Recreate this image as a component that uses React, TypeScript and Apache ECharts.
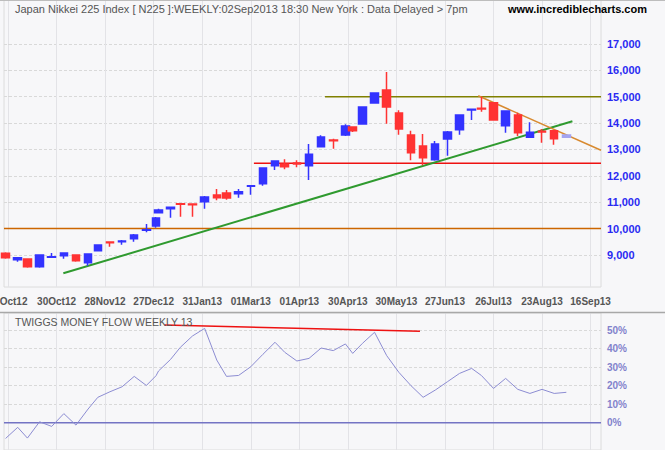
import React, { useEffect, useRef } from 'react';
import * as echarts from 'echarts';

// Weekly candles (Nikkei 225), positioned by trading-day index (0 = 01Oct12)
const weekEnding = ['28Sep12','05Oct12','12Oct12','19Oct12','26Oct12','02Nov12','09Nov12','16Nov12','22Nov12','30Nov12','07Dec12','14Dec12','21Dec12','28Dec12','04Jan13','11Jan13','18Jan13','25Jan13','01Feb13','08Feb13','15Feb13','22Feb13','01Mar13','08Mar13','15Mar13','22Mar13','29Mar13','05Apr13','12Apr13','19Apr13','26Apr13','02May13','10May13','17May13','24May13','31May13','07Jun13','14Jun13','21Jun13','28Jun13','05Jul13','12Jul13','19Jul13','26Jul13','02Aug13','09Aug13','16Aug13','23Aug13','30Aug13','06Sep13'];
const tradingDay = [-1,4,8,13,18,23,28,33,37,42,47,52,57,61,62,67,71,76,81,86,90,95,100,105,110,114,119,124,129,134,139,142,146,151,156,161,166,171,176,181,186,191,195,200,205,210,215,220,225,230];
const openP = [9063,8823,8848,8558,8912,8975,9000,8709,9164,9493,9505,9619,9935,10099,10605,10757,10946,10933,11022,11275,11350,11325,11603,11704,12387,12437,12488,12386,13106,13359,13549,13852,13966,14762,15255,14383,13549,13132,12613,13397,13751,14496,14560,14774,13902,14307,13460,13688,13713,13460];
const closeP = [8899,8899,8558,9000,8937,9076,8785,9038,9379,9468,9531,9758,9960,10403,10706,10807,10921,10908,11199,11174,11161,11401,11628,12298,12564,12349,12450,12816,13473,13334,13890,13713,14610,15141,14610,13776,12879,12689,13207,13662,14307,14522,14534,14117,14458,13637,13650,13662,13410,13549];
const lowP = [8861,8747,8520,8520,8905,8861,8747,8596,9160,9316,9392,9505,9859,10036,10600,10415,10453,10453,10757,11072,11098,11174,11287,11628,12222,12248,12324,11843,13100,13031,13511,13662,13940,14737,13978,13561,12588,12399,12576,12765,13561,14117,14433,14110,13637,13511,13448,13258,13182,13455];
const highP = [9101,8905,8855,9025,9076,9076,9025,9040,9380,9495,9569,9796,10175,10441,10757,10810,10971,10935,11237,11502,11464,11502,11630,12300,12566,12627,12589,13207,13536,13410,13953,13877,14615,15145,15937,14484,13713,13587,13321,13700,14310,14547,15002,14787,14460,14395,14029,13776,13720,13555];
// Twiggs Money Flow (13 week), percent
const tmf = [-8.5,-2.5,-8.3,0.5,-2.0,4.9,-1.3,7.4,13.7,16.7,19.4,25.0,20.1,25.4,27.9,34.2,40.7,46.8,50.9,33.8,25.0,25.5,30.2,36.9,43.4,38.0,33.3,34.7,40.3,38.9,42.5,37.4,42.8,48.8,36.2,27.2,20.0,13.7,17.6,22.1,26.6,29.3,25.5,18.5,23.9,18.0,15.8,18.0,15.8,16.4];

// Axis ticks
const gridLineDays = [0,20,40,60,80,100,120,140,160,180,200,220,240];
const gridLabels = ['01Oct12','30Oct12','28Nov12','27Dec12','31Jan13','01Mar13','01Apr13','30Apr13','30May13','27Jun13','26Jul13','23Aug13','16Sep13'];
const priceTicks = [9000,10000,11000,12000,13000,14000,15000,16000,17000];
const tmfTicks = [0,10,20,30,40,50];

// Drawn lines (trading day, value)
const T_MIN = -1.648;
const T_MAX = 244.28;
const resistance15000 = [[130.6, 15000], [T_MAX, 15000]];
const support12480 = [[101.3, 12480], [T_MAX, 12480]];
const level10000 = [[T_MIN, 10000], [T_MAX, 10000]];
const greenTrend = [[22.8, 8306], [232.5, 14069]];
const orangeTrend = [[193.7, 15039], [T_MAX, 12969]];
const tmfDivergence = [[64.5, 52.7], [169.7, 49.3]];
const tmfZero = [[T_MIN, 0], [T_MAX, 0]];

const SANS = '"Liberation Sans", Arial, sans-serif';

export default function App() {
  const ref = useRef<HTMLDivElement>(null);
  useEffect(() => {
    const chart = echarts.init(ref.current!, null, { renderer: 'svg' });
    const candleData: any[] = tradingDay.map((t, i) => {
      const v = [t, openP[i], closeP[i], lowP[i], highP[i]];
      if (i === tradingDay.length - 1) {
        return { value: v, name: weekEnding[i], itemStyle: { color: '#a4a4f0', color0: '#a4a4f0', borderColor: '#a4a4f0', borderColor0: '#a4a4f0' } };
      }
      return { value: v, name: weekEnding[i] };
    });
    const seg = (data: number[][], color: string, width: number, idx = 0, z = 2) => ({
      type: 'line', xAxisIndex: idx, yAxisIndex: idx, data, symbol: 'none', silent: true, clip: false, z,
      lineStyle: { color, width },
    });
    const xAxisBase = (gi: number, showLabels: boolean) => ({
      type: 'value', gridIndex: gi, min: T_MIN, max: T_MAX,
      axisLine: { show: false },
      axisTick: { show: false, customValues: gridLineDays },
      axisLabel: {
        show: showLabels, customValues: gridLineDays,
        formatter: (v: number) => gridLabels[Math.round(v / 20)] ?? '',
        color: '#555', fontWeight: 'bold', fontSize: 10, fontFamily: SANS, margin: 9,
      },
      splitLine: { show: true, lineStyle: { color: '#e3e3e7', width: 1 } },
    });
    const option: any = {
      animation: false,
      backgroundColor: '#f7f7f9',
      grid: [
        { left: 4, top: 0, width: 597, height: 287, show: true, borderColor: '#dcdcdc', borderWidth: 1, backgroundColor: 'transparent', containLabel: false, outerBoundsMode: 'none' },
        { left: 4, top: 313, width: 597, height: 137, show: true, borderColor: '#dcdcdc', borderWidth: 1, backgroundColor: 'transparent', containLabel: false, outerBoundsMode: 'none' },
      ],
      xAxis: [xAxisBase(0, true), xAxisBase(1, false)],
      yAxis: [
        {
          type: 'value', gridIndex: 0, position: 'right', min: 7787, max: 18667,
          axisLine: { show: false },
          axisTick: { show: true, length: 4, customValues: priceTicks, lineStyle: { color: '#d8d8d8' } },
          axisLabel: {
            customValues: priceTicks, formatter: (v: number) => v.toLocaleString('en-US'),
            color: '#2a2af2', fontWeight: 'bold', fontSize: 11, fontFamily: SANS, margin: 6,
          },
          splitLine: { show: true, lineStyle: { color: '#d9d9d9', type: [3, 2] } },
        },
        {
          type: 'value', gridIndex: 1, position: 'right', min: -14.73, max: 59.2,
          axisLine: { show: false },
          axisTick: { show: true, length: 4, customValues: tmfTicks, lineStyle: { color: '#d8d8d8' } },
          axisLabel: {
            customValues: tmfTicks, formatter: (v: number) => v + '%',
            color: '#8282cc', fontWeight: 'bold', fontSize: 10, fontFamily: SANS, margin: 6,
          },
          splitLine: { show: true, lineStyle: { color: '#d9d9d9', type: [3, 2] } },
        },
      ],
      series: [
        seg(level10000, '#cc6600', 1.5),
        seg(support12480, '#ee1111', 1.5),
        seg(resistance15000, '#808000', 1.5),
        seg(greenTrend, '#2f9a2f', 2),
        seg(orangeTrend, '#d88a30', 1.5),
        {
          type: 'candlestick', xAxisIndex: 0, yAxisIndex: 0, barWidth: 8, clip: false, z: 3,
          itemStyle: { color: '#3333ff', color0: '#ff3333', borderColor: '#3333ff', borderColor0: '#ff3333', borderWidth: 1.5 },
          data: candleData,
        },
        seg(tmfZero, '#7474c4', 1.5, 1),
        {
          type: 'line', xAxisIndex: 1, yAxisIndex: 1, symbol: 'none', silent: true, z: 3,
          data: tradingDay.map((t, i) => [t, tmf[i]]),
          lineStyle: { color: '#8c8cd2', width: 1 },
        },
        seg(tmfDivergence, '#ee1111', 1.5, 1, 4),
      ],
      graphic: [
        { type: 'line', shape: { x1: 0, y1: 0.5, x2: 665, y2: 0.5 }, style: { stroke: '#bdbdbd', lineWidth: 1 }, z: 10 },
        { type: 'line', shape: { x1: 0, y1: 312.5, x2: 665, y2: 312.5 }, style: { stroke: '#a8a8a8', lineWidth: 1.5 }, z: 10 },
        {
          type: 'text', x: 15, y: 8.5, z: 10,
          style: { text: 'Japan Nikkei 225 Index [ N225 ]:WEEKLY:02Sep2013 18:30 New York : Data Delayed > 7pm', font: '11px ' + SANS, fill: '#555', verticalAlign: 'middle' },
        },
        {
          type: 'text', x: 508, y: 8.5, z: 10,
          style: { text: 'www.incrediblecharts.com', font: 'bold 11px ' + SANS, fill: '#000', verticalAlign: 'middle' },
        },
        {
          type: 'text', x: 15, y: 321.5, z: 10,
          style: { text: 'TWIGGS MONEY FLOW WEEKLY 13', font: '10.5px ' + SANS, fill: '#555', verticalAlign: 'middle' },
        },
      ],
    };
    chart.setOption(option);
    return () => chart.dispose();
  }, []);
  return <div ref={ref} style={{ position: 'fixed', left: 0, top: 0, width: 665, height: 450 }} />;
}
